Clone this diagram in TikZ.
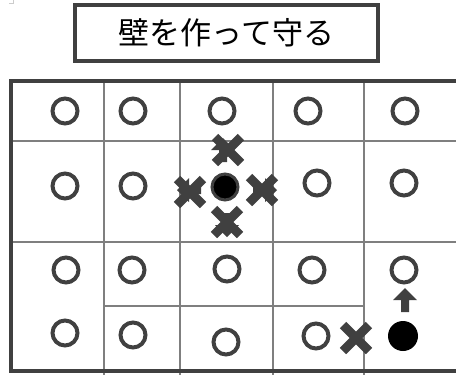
\documentclass[tikz,border=0pt]{standalone}
\usepackage{fontspec}
\newfontfamily\jpfont{Noto Sans CJK JP}
\usetikzlibrary{shapes.misc}
\definecolor{dgray}{HTML}{404040}
\definecolor{lgray}{HTML}{7F7F7F}

\begin{document}
\begin{tikzpicture}[x=1pt,y=-1pt,
        ring/.style={circle,draw=dgray,line width=4pt,minimum size=25pt,inner sep=0pt},
        stone/.style={circle,fill=black,minimum size=30pt,inner sep=0pt},
        xmark/.style={cross out,draw=dgray,line width=9pt,minimum size=17pt,inner sep=0pt},
        gridline/.style={lgray,line width=1.8pt},
        blockarrow/.pic={\fill[dgray] (0,-12) -- (12,0) -- (4,0) -- (4,12) -- (-4,12) -- (-4,0) -- (-12,0) -- cycle;}]
        \useasboundingbox (0,0) rectangle (456,375);
        \draw[lgray!40,line width=1pt] (9,3.5) -- (13.5,3.5) -- (13.5,0);
        
        \node[draw=dgray,line width=4pt,minimum width=303pt,minimum height=56pt,inner sep=0pt,
            font={\jpfont\fontsize{31pt}{31pt}\selectfont}] (title) at (226.5,33) {壁を作って守る};
        
        \draw[gridline] (104,82) -- (104,375);
        \draw[gridline] (180,82) -- (180,375);
        \draw[gridline] (273,82) -- (273,375);
        \draw[gridline] (364,82) -- (364,375);
        \draw[gridline] (12,141) -- (456,141);
        \draw[gridline] (12,242) -- (456,242);
        \draw[gridline] (104,306) -- (364,306);
        \draw[dgray,line width=4pt] (10.5,80.5) rectangle (462,370.5);
        
        \node[ring] (a1) at (65,111) {};
        \node[ring] (a2) at (133,111) {};
        \node[ring] (a3) at (222,111) {};
        \node[ring] (a4) at (308,111) {};
        \node[ring] (a5) at (405,111) {};
        
        \node[ring] (b1) at (65,186) {};
        \node[ring] (b2) at (133,186) {};
        \node[ring] (b4) at (317,183) {};
        \node[ring] (b5) at (404,183) {};
        
        \node[ring] (c1) at (66,270) {};
        \node[ring] (c2) at (132,270) {};
        \node[ring] (c3) at (227,269) {};
        \node[ring] (c4) at (312,270) {};
        \node[ring] (c5) at (404,270) {};
        
        \node[ring] (d1) at (65,333) {};
        \node[ring] (d2) at (133,335) {};
        \node[ring] (d3) at (226,342) {};
        \node[ring] (d4) at (316,336) {};
        
        \pic at (223,150) {blockarrow};
        \pic[rotate=90] at (189,190) {blockarrow};
        \pic[rotate=-90] at (265,190) {blockarrow};
        \pic[rotate=180] at (227,225) {blockarrow};
        \pic at (405,300) {blockarrow};
        
        \node[xmark] (xup) at (228,150) {};
        \node[xmark] (xleft) at (190,192) {};
        \node[xmark] (xright) at (262,190) {};
        \node[xmark] (xdown) at (227,222) {};
        \node[xmark] (xwall) at (356,338) {};
        
        \node[stone,draw=dgray,line width=3pt,minimum size=26pt] (b3) at (225,187) {};
        \node[stone] (d5) at (403,336) {};
        
    \end{tikzpicture}
\end{document}
